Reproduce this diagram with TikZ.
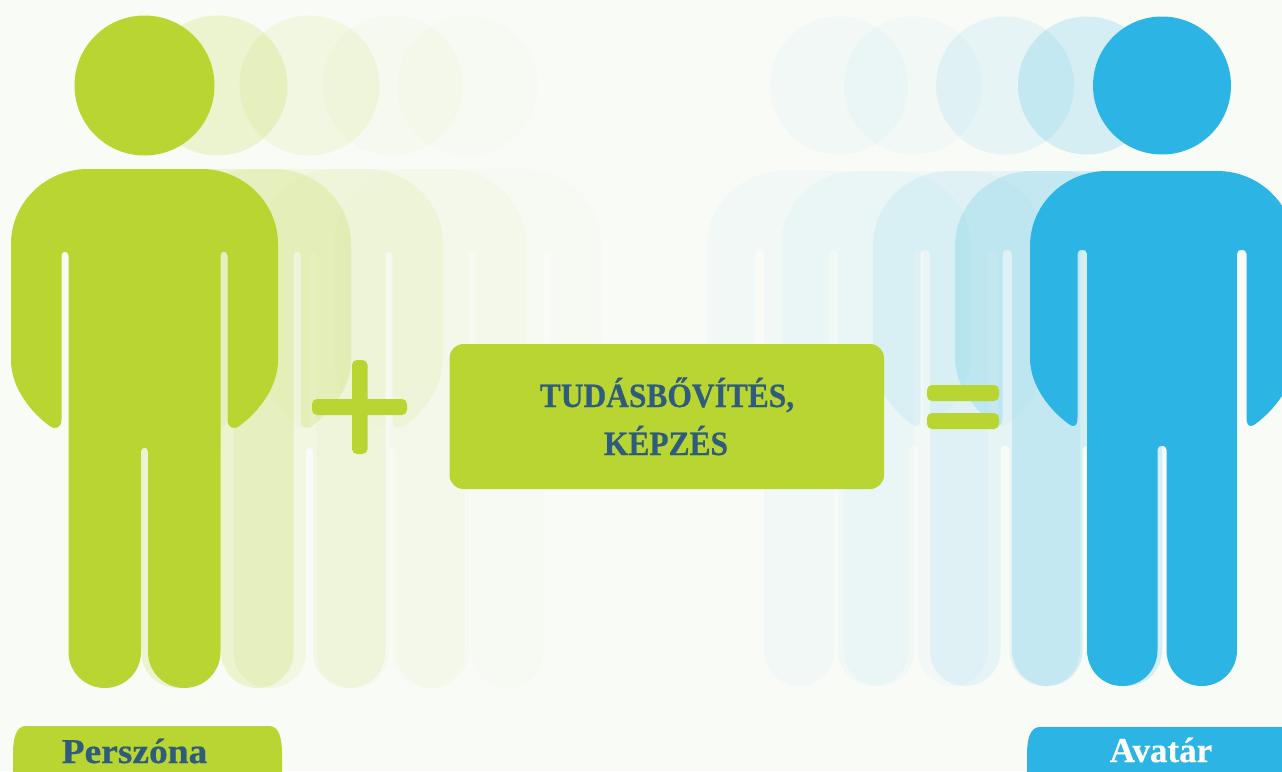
\documentclass[tikz,border=0pt]{standalone}
\usepackage{fontspec}
\setmainfont{Liberation Serif}
\newfontfamily\narrowf[FakeStretch=0.925,BoldFeatures={FakeBold=0.5}]{Liberation Serif}
\newfontfamily\widef[FakeStretch=1.07,BoldFeatures={FakeBold=0.5}]{Liberation Serif}
\newfontfamily\avaf[BoldFeatures={FakeBold=0.5}]{Liberation Serif}
\definecolor{bgc}{HTML}{F9FBF7}
\definecolor{grn}{HTML}{B9D532}
\definecolor{blu}{HTML}{2CB5E4}
\definecolor{ink}{HTML}{2F5B7C}
\newcommand{\figperson}[9]{%
\begin{scope}[shift={(#1,0)}]
\fill[#2,fill opacity=#3,even odd rule]
 (0,85.5) circle[radius=#5]
 (-#4+77,#6) -- (#4-77,#6)
 .. controls (#4-34,#6) and (#4,#6+34) .. (#4,#6+75)
 -- (#4,\dyb+360)
 .. controls (#4,\dyb+388) and (#4-20,\dyb+412) .. (#4-38,\dyb+425.5)
 .. controls (#4-44,\dyb+430) and (#8,\dyb+429) .. (#8,\dyb+419)
 -- (#8,\dyb+255.5)
 .. controls (#8,\dyb+250.5) and (#9,\dyb+250.5) .. (#9,\dyb+255.5)
 -- (#9,#7-36)
 .. controls (#9,#7-16) and (#9/2+\crh/2+20,#7) .. (#9/2+\crh/2,#7)
 .. controls (#9/2+\crh/2-20,#7) and (\crh,#7-16) .. (\crh,#7-36)
 -- (\crh,\dyb+451.5)
 .. controls (\crh,\dyb+446.5) and (-\crh,\dyb+446.5) .. (-\crh,\dyb+451.5)
 -- (-\crh,#7-36)
 .. controls (-\crh,#7-16) and (-#9/2-\crh/2+20,#7) .. (-#9/2-\crh/2,#7)
 .. controls (-#9/2-\crh/2-20,#7) and (-#9,#7-16) .. (-#9,#7-36)
 -- (-#9,\dyb+255.5)
 .. controls (-#9,\dyb+250.5) and (-#8,\dyb+250.5) .. (-#8,\dyb+255.5)
 -- (-#8,\dyb+419)
 .. controls (-#8,\dyb+429) and (-#4+44,\dyb+430) .. (-#4+38,\dyb+425.5)
 .. controls (-#4+20,\dyb+412) and (-#4,\dyb+388) .. (-#4,\dyb+360)
 -- (-#4,#6+75)
 .. controls (-#4,#6+34) and (-#4+34,#6) .. (-#4+77,#6) -- cycle;
\end{scope}}
\newcommand{\greenp}[2]{\def\crh{3.5}\def\dyb{0}\figperson{#1}{grn}{#2}{133.5}{70}{169}{688}{83}{76}}
\newcommand{\bluep}[2]{\def\crh{4.5}\def\dyb{-2}\figperson{#1}{blu}{#2}{132}{69}{171}{686}{84.5}{75}}
\tikzset{
 panel/.style={fill=grn,rounded corners=14pt,inner sep=0pt,minimum width=434.5pt,minimum height=145pt},
 bar/.style={fill=grn,rounded corners=5pt,inner sep=0pt},
 heading/.style={font=\narrowf\bfseries\fontsize{34}{34}\selectfont,text=ink,inner sep=0pt,anchor=base},
 lab/.style={inner sep=0pt,anchor=base}
}
\begin{document}
\begin{tikzpicture}[x=1pt,y=-1pt]
\useasboundingbox (0,0) rectangle (1282,771);
\clip (0,0) rectangle (1282,771);
\fill[bgc] (0,0) rectangle (1282,771);
\greenp{467.5}{0.025}
\greenp{392.5}{0.04}
\greenp{309.5}{0.10}
\greenp{217.5}{0.2}
\greenp{144.5}{1}
\bluep{839}{0.035}
\bluep{913}{0.035}
\bluep{1005}{0.09}
\bluep{1087}{0.18}
\bluep{1162}{1}
\node[bar,minimum width=95pt,minimum height=16pt] (plush) at (359.5,407) {};
\node[bar,minimum width=15.5pt,minimum height=94pt] (plusv) at (359.75,407) {};
\node[bar,minimum width=72pt,minimum height=16pt] (eqa) at (963,393) {};
\node[bar,minimum width=72pt,minimum height=16pt] (eqb) at (963,421) {};
\node[panel] (box) at (666.75,416.5) {};
\node[heading] (t1) at (667,407) {TUDÁSBŐVÍTÉS,};
\node[heading] (t2) at (666,455) {KÉPZÉS};
\fill[grn] (13,754) .. controls (13,738) and (16,726) .. (26,726) -- (269,726)
  .. controls (279,726) and (282,738) .. (282,754) -- (282,790) -- (13,790) -- cycle;
\fill[blu] (1027,755) .. controls (1027,739) and (1030,727) .. (1040,727) -- (1300,727) -- (1300,790) -- (1027,790) -- cycle;
\node[lab,text=ink,font=\widef\bfseries\fontsize{35}{35}\selectfont] (la) at (134.5,763) {Perszóna};
\node[lab,text=white,font=\avaf\bfseries\fontsize{35}{35}\selectfont] (lb) at (1161,762) {Avatár};
\end{tikzpicture}
\end{document}
